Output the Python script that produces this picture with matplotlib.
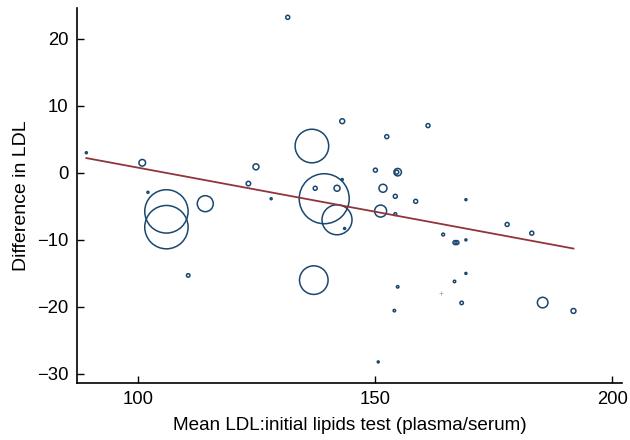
import numpy as np
import matplotlib
matplotlib.use('Agg')
import matplotlib.pyplot as plt

plt.rcParams['font.family'] = ['Liberation Sans', 'DejaVu Sans']

# study level data
mean_ldl = [89.0, 100.8, 102.0, 105.9, 105.9, 110.5, 114.1, 123.2, 124.8, 128.0,
            131.5, 136.6, 137.0, 137.3, 139.2, 141.9, 141.9, 143.0, 143.0, 143.5,
            150.0, 150.6, 151.1, 151.6, 152.4, 154.0, 154.2, 154.2, 154.5, 154.7,
            154.7, 158.5, 161.1, 164.3, 166.7, 166.8, 167.2, 169.1, 169.1, 169.1,
            168.2, 177.8, 183.0, 185.3, 191.8]
diff_ldl = [3.0, 1.5, -2.9, -5.75, -8.1, -15.3, -4.6, -1.6, 0.9, -3.86,
            23.2, 4.0, -16.0, -2.3, -3.86, -2.3, -7.0, 7.7, -1.0, -8.3,
            0.4, -28.2, -5.7, -2.3, 5.4, -20.55, -3.5, -6.15, 0.1, 0.1,
            -17.0, -4.25, 7.05, -9.2, -16.2, -10.4, -10.4, -4.0, -10.0, -15.0,
            -19.4, -7.7, -9.0, -19.35, -20.6]
weight = [1, 11, 1, 470, 470, 3, 64, 5, 9, 1,
          4, 282, 204, 4, 625, 9, 225, 6, 1, 1,
          4, 1, 36, 16, 4, 1.5, 4, 2, 4, 14,
          1.5, 4, 4, 2, 1.5, 4, 4, 1, 1, 1,
          3, 4, 4, 28, 6]
# zero weight study (drawn as faint marker)
zero_x = [163.9]
zero_y = [-17.95]

# fitted meta-regression line
intercept = 13.89
slope = -0.1313

navy = '#1a476f'
maroon = '#90353b'

fig = plt.figure(figsize=(6.3, 4.4), dpi=100)
ax = fig.add_axes([0.122, 0.1295, 0.865, 0.8525])

px = 0.72  # points per pixel at 100 dpi
sizes = [(2 * np.sqrt(w) * px) ** 2 for w in weight]
ax.scatter(mean_ldl, diff_ldl, s=sizes, facecolors='none', edgecolors=navy,
           linewidths=1.1, zorder=3)
ax.scatter(zero_x, zero_y, s=6, marker='+', color='#b0b0b0', linewidths=0.6, zorder=2)

xs = np.array([min(mean_ldl), max(mean_ldl)])
ax.plot(xs, intercept + slope * xs, color=maroon, linewidth=1.3, zorder=4)

ax.set_xlim(87.0, 202.0)
ax.set_ylim(-31.35, 24.6)
ax.set_xticks([100, 150, 200])
ax.set_yticks([-30, -20, -10, 0, 10, 20])
ax.set_yticklabels(['\u221230', '\u221220', '\u221210', '0', '10', '20'])

for s in ['top', 'right']:
    ax.spines[s].set_visible(False)
for s in ['left', 'bottom']:
    ax.spines[s].set_linewidth(1.2)

ax.tick_params(direction='in', length=5, width=1.0, labelsize=13.3, pad=6)
ax.set_xlabel('Mean LDL:initial lipids test (plasma/serum)', fontsize=13.6, labelpad=6)
ax.set_ylabel('Difference in LDL', fontsize=14, labelpad=5)

fig.savefig('out.png', dpi=100)
